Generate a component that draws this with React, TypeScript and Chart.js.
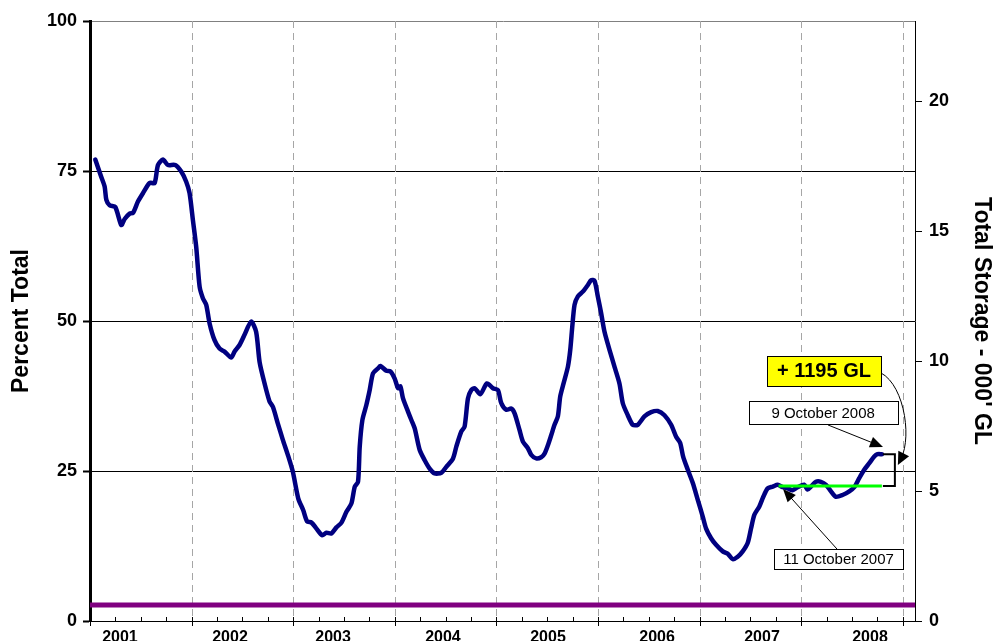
import React, { useEffect, useRef } from 'react';
import { Chart, registerables } from 'chart.js';

Chart.register(...registerables);

// ---- data ----
const storageYears = [
  2001.052, 2001.111, 2001.144, 2001.161, 2001.193, 2001.249, 2001.308, 2001.341, 2001.39, 2001.423,
  2001.472, 2001.521, 2001.587, 2001.636, 2001.669, 2001.718, 2001.767, 2001.839, 2001.898, 2001.947,
  2001.98, 2002.013, 2002.045, 2002.079, 2002.111, 2002.144, 2002.177, 2002.226, 2002.275, 2002.324,
  2002.39, 2002.423, 2002.472, 2002.521, 2002.586, 2002.635, 2002.669, 2002.718, 2002.767, 2002.8,
  2002.849, 2002.898, 2002.947, 2002.996, 2003.05, 2003.098, 2003.137, 2003.18, 2003.229, 2003.285,
  2003.327, 2003.376, 2003.425, 2003.475, 2003.524, 2003.573, 2003.606, 2003.638, 2003.655, 2003.681,
  2003.72, 2003.753, 2003.786, 2003.835, 2003.858, 2003.917, 2003.957, 2003.999, 2004.032, 2004.055,
  2004.081, 2004.13, 2004.163, 2004.196, 2004.245, 2004.294, 2004.343, 2004.392, 2004.458, 2004.507,
  2004.573, 2004.606, 2004.655, 2004.687, 2004.72, 2004.753, 2004.786, 2004.842, 2004.907, 2004.966,
  2005.015, 2005.048, 2005.097, 2005.146, 2005.179, 2005.228, 2005.261, 2005.31, 2005.343, 2005.392,
  2005.441, 2005.474, 2005.507, 2005.54, 2005.572, 2005.605, 2005.628, 2005.661, 2005.704, 2005.727,
  2005.747, 2005.769, 2005.802, 2005.851, 2005.9, 2005.933, 2005.966, 2005.998, 2006.031, 2006.064,
  2006.113, 2006.162, 2006.211, 2006.244, 2006.293, 2006.342, 2006.391, 2006.457, 2006.523, 2006.588,
  2006.654, 2006.72, 2006.769, 2006.808, 2006.838, 2006.884, 2006.933, 2006.982, 2007.031, 2007.064,
  2007.113, 2007.162, 2007.228, 2007.277, 2007.326, 2007.375, 2007.424, 2007.473, 2007.506, 2007.539,
  2007.588, 2007.627, 2007.67, 2007.72, 2007.769, 2007.818, 2007.866, 2007.915, 2007.965, 2008.03,
  2008.063, 2008.096, 2008.145, 2008.194, 2008.244, 2008.293, 2008.342, 2008.407, 2008.473, 2008.522,
  2008.571, 2008.62, 2008.67, 2008.719, 2008.751, 2008.794,
];
const storagePct = [
  76.9, 74.0, 72.4, 70.2, 69.3, 69.0, 66.0, 67.0, 67.9, 68.0,
  69.9, 71.3, 73.0, 73.0, 76.0, 76.9, 76.0, 76.0, 74.9, 73.2,
  71.3, 66.8, 62.4, 55.7, 53.8, 52.7, 49.6, 46.8, 45.4, 44.9,
  43.9, 44.9, 46.0, 47.7, 49.9, 48.2, 43.2, 39.6, 36.6, 35.7,
  32.9, 30.2, 27.7, 24.9, 20.4, 18.5, 16.6, 16.4, 15.4, 14.3,
  14.7, 14.6, 15.6, 16.4, 18.2, 19.6, 22.4, 23.2, 29.1, 33.5,
  36.0, 38.5, 41.3, 42.1, 42.5, 41.7, 41.6, 40.4, 38.8, 39.1,
  37.1, 34.9, 33.5, 32.1, 28.5, 26.8, 25.4, 24.6, 24.7, 25.7,
  27.1, 29.1, 31.6, 32.4, 37.1, 38.5, 38.8, 37.8, 39.6, 38.8,
  38.5, 36.3, 35.2, 35.4, 34.6, 31.8, 29.9, 28.8, 27.7, 27.1,
  27.3, 27.9, 29.3, 31.0, 32.7, 34.1, 37.4, 39.6, 42.4, 45.2,
  49.1, 52.7, 54.1, 54.9, 56.0, 56.8, 56.7, 54.1, 51.3, 48.2,
  45.2, 42.4, 39.6, 36.3, 34.3, 32.7, 32.7, 34.1, 34.8, 35.0,
  34.3, 32.7, 30.7, 29.7, 27.4, 25.2, 23.0, 20.2, 17.4, 15.4,
  13.8, 12.7, 11.6, 11.2, 10.3, 10.7, 11.6, 13.0, 15.4, 17.7,
  19.1, 20.7, 22.1, 22.4, 22.7, 22.3, 22.1, 21.8, 22.3, 22.7,
  21.9, 22.4, 23.2, 23.2, 22.7, 21.6, 20.7, 21.0, 21.6, 22.3,
  23.8, 25.2, 26.3, 27.4, 27.8, 27.8,
];
const deadStorageYears = [2001, 2009.12];
const deadStoragePct = [2.67, 2.67];
const lastYearYears = [2007.777, 2008.794];
const lastYearPct = [22.5, 22.5];

const yearLabels = ['2001', '2002', '2003', '2004', '2005', '2006', '2007', '2008'];
const yearLabelPos = [2001.295, 2002.378, 2003.392, 2004.474, 2005.508, 2006.581, 2007.614, 2008.677];
const leftTicks = [0, 25, 50, 75, 100];
const rightTicks = [0, 5, 10, 15, 20];

const gainText = '+ 1195 GL';
const endDateText = '9 October 2008';
const startDateText = '11 October 2007';

const X_MIN = 2001;
const X_MAX = 2009.12;
const RIGHT_MAX = 23.1;

const FONT = '"Liberation Sans", Arial, sans-serif';

function drawArrowHead(ctx: CanvasRenderingContext2D, tx: number, ty: number, ang: number, len = 13, half = 5.5) {
  ctx.beginPath();
  ctx.moveTo(tx, ty);
  ctx.lineTo(tx - len * Math.cos(ang) + half * Math.sin(ang), ty - len * Math.sin(ang) - half * Math.cos(ang));
  ctx.lineTo(tx - len * Math.cos(ang) - half * Math.sin(ang), ty - len * Math.sin(ang) + half * Math.cos(ang));
  ctx.closePath();
  ctx.fill();
}

function drawArrow(ctx: CanvasRenderingContext2D, x1: number, y1: number, x2: number, y2: number) {
  const ang = Math.atan2(y2 - y1, x2 - x1);
  ctx.beginPath();
  ctx.moveTo(x1, y1);
  ctx.lineTo(x2 - 10 * Math.cos(ang), y2 - 10 * Math.sin(ang));
  ctx.stroke();
  drawArrowHead(ctx, x2, y2, ang);
}

function drawBox(ctx: CanvasRenderingContext2D, cx: number, cy: number, w: number, h: number, text: string, font: string, fill: string) {
  const l = Math.round(cx - w / 2) + 0.5;
  const t = Math.round(cy - h / 2) + 0.5;
  ctx.fillStyle = fill;
  ctx.fillRect(l, t, w, h);
  ctx.strokeStyle = '#000';
  ctx.lineWidth = 1;
  ctx.strokeRect(l, t, w, h);
  ctx.fillStyle = '#000';
  ctx.font = font;
  ctx.textAlign = 'center';
  ctx.textBaseline = 'middle';
  ctx.fillText(text, cx, cy + 1);
}

const overlayPlugin = {
  id: 'overlay',
  beforeDatasetsDraw(chart: any) {
    const { ctx, chartArea: a, scales } = chart;
    const x = scales.x;
    ctx.save();
    ctx.strokeStyle = '#a6a6a6';
    ctx.lineWidth = 1;
    ctx.setLineDash([7, 5]);
    for (let yr = X_MIN + 1; yr <= X_MAX; yr++) {
      const px = Math.round(x.getPixelForValue(yr)) + 0.5;
      ctx.beginPath();
      ctx.moveTo(px, a.top);
      ctx.lineTo(px, a.bottom);
      ctx.stroke();
    }
    ctx.restore();
  },
  afterDraw(chart: any) {
    const { ctx, chartArea: a, scales } = chart;
    const x = scales.x;
    const y = scales.y;
    ctx.save();
    // quarter tick marks on the x axis
    ctx.strokeStyle = '#000';
    ctx.lineWidth = 1;
    for (let i = 0; X_MIN + i * 0.25 <= X_MAX; i++) {
      const v = X_MIN + i * 0.25;
      const px = Math.round(x.getPixelForValue(v)) + 0.5;
      const major = i % 4 === 0;
      ctx.beginPath();
      ctx.moveTo(px, a.bottom - 4);
      ctx.lineTo(px, a.bottom + (major ? 5 : 0));
      ctx.stroke();
    }

    // bracket showing the gain
    const lastX = x.getPixelForValue(storageYears[storageYears.length - 1]);
    const topY = y.getPixelForValue(storagePct[storagePct.length - 1]);
    const botY = y.getPixelForValue(lastYearPct[lastYearPct.length - 1]);
    const bl = lastX + 1;
    const br = lastX + 13;
    ctx.lineWidth = 2;
    ctx.beginPath();
    ctx.moveTo(bl, topY);
    ctx.lineTo(br, topY);
    ctx.lineTo(br, botY);
    ctx.lineTo(bl, botY);
    ctx.stroke();

    // curved arrow from gain label to bracket
    ctx.lineWidth = 1;
    const sx = x.getPixelForValue(2008.736), sy = y.getPixelForValue(41.67);
    const c1x = x.getPixelForValue(2009.0), c1y = y.getPixelForValue(40.5);
    const c2x = x.getPixelForValue(2009.1), c2y = y.getPixelForValue(31.0);
    const ex = br + 3, ey = (topY + botY) / 2 - 5;
    ctx.beginPath();
    ctx.moveTo(sx, sy);
    ctx.bezierCurveTo(c1x, c1y, c2x, c2y, ex + 3, ey - 6);
    ctx.stroke();
    ctx.fillStyle = '#000';
    drawArrowHead(ctx, ex, ey, Math.atan2(ey - c2y, ex - c2x), 13, 6);

    // straight arrows
    drawArrow(ctx, x.getPixelForValue(2008.264), y.getPixelForValue(32.67), x.getPixelForValue(2008.805), y.getPixelForValue(29.0));
    drawArrow(ctx, x.getPixelForValue(2008.352), y.getPixelForValue(12.0), x.getPixelForValue(2007.821), y.getPixelForValue(22.0));

    // boxes
    drawBox(ctx, x.getPixelForValue(2008.224), y.getPixelForValue(41.67), 114, 30, gainText, `bold 20px ${FONT}`, '#ffff00');
    drawBox(ctx, x.getPixelForValue(2008.2156), y.getPixelForValue(34.75), 149, 23, endDateText, `15px ${FONT}`, '#ffffff');
    drawBox(ctx, x.getPixelForValue(2008.367), y.getPixelForValue(10.33), 129, 20, startDateText, `15px ${FONT}`, '#ffffff');
    ctx.restore();
  },
};

export default function App() {
  const canvasRef = useRef<HTMLCanvasElement | null>(null);

  useEffect(() => {
    document.body.style.margin = '0';
    const canvas = canvasRef.current;
    if (!canvas) return;
    const toXY = (xs: number[], ys: number[]) => xs.map((v, i) => ({ x: v, y: ys[i] }));
    const xTickFont = { family: FONT, size: 16, weight: 'bold' as const };
    const yTickFont = { family: FONT, size: 18, weight: 'bold' as const };
    const titleFont = { family: FONT, size: 23, weight: 'bold' as const };
    const chart = new Chart(canvas, {
      type: 'line',
      data: {
        datasets: [
          {
            label: 'Dead storage',
            data: toXY(deadStorageYears, deadStoragePct),
            borderColor: '#800080',
            borderWidth: 5,
            pointRadius: 0,
            yAxisID: 'y',
          },
          {
            label: 'October 2007 level',
            data: toXY(lastYearYears, lastYearPct),
            borderColor: '#00ff00',
            borderWidth: 3,
            pointRadius: 0,
            yAxisID: 'y',
          },
          {
            label: 'Percent Total',
            data: toXY(storageYears, storagePct),
            borderColor: '#000080',
            borderWidth: 4.5,
            pointRadius: 0,
            tension: 0.25,
            borderJoinStyle: 'round',
            borderCapStyle: 'round',
            yAxisID: 'y',
          },
        ],
      },
      options: {
        animation: false,
        responsive: true,
        maintainAspectRatio: false,
        layout: { padding: { top: 21, left: 0, right: 0, bottom: 0 } },
        plugins: { legend: { display: false }, tooltip: { enabled: false }, title: { display: false } },
        scales: {
          x: {
            type: 'linear',
            position: 'bottom',
            min: X_MIN,
            max: X_MAX,
            afterBuildTicks: (scale: any) => {
              scale.ticks = yearLabelPos.map((v) => ({ value: v }));
            },
            afterFit: (scale: any) => {
              scale.height = 20;
            },
            grid: { display: false, drawTicks: false },
            border: { display: true, color: '#000', width: 1 },
            ticks: {
              autoSkip: false,
              maxRotation: 0,
              padding: 7,
              color: '#000',
              font: xTickFont,
              callback: (value: any) => {
                const idx = yearLabelPos.findIndex((p) => Math.abs(p - Number(value)) < 1e-6);
                return idx >= 0 ? yearLabels[idx] : '';
              },
            },
          },
          y: {
            type: 'linear',
            position: 'left',
            min: 0,
            max: 100,
            afterBuildTicks: (scale: any) => {
              scale.ticks = leftTicks.map((v) => ({ value: v }));
            },
            afterFit: (scale: any) => {
              scale.width = 90;
            },
            grid: {
              color: (ctx: any) => {
                const v = ctx.tick ? ctx.tick.value : -1;
                if (v === 0) return 'rgba(0,0,0,0)';
                if (v === 100) return '#808080';
                return '#000000';
              },
              lineWidth: 1,
              drawTicks: true,
              tickLength: 7,
              tickColor: '#000',
              tickWidth: 2,
            },
            border: { display: true, color: '#000', width: 3 },
            ticks: { color: '#000', font: yTickFont, padding: 6 },
            title: {
              display: true,
              text: 'Percent Total',
              color: '#000',
              font: titleFont,
              padding: { top: 8, bottom: 0 },
            },
          },
          y2: {
            type: 'linear',
            position: 'right',
            min: 0,
            max: RIGHT_MAX,
            afterBuildTicks: (scale: any) => {
              scale.ticks = rightTicks.map((v) => ({ value: v }));
            },
            afterFit: (scale: any) => {
              scale.width = 78;
            },
            grid: { drawOnChartArea: false, drawTicks: true, tickLength: 7, tickColor: '#000', tickWidth: 1 },
            border: { display: true, color: '#000', width: 1 },
            ticks: { color: '#000', font: yTickFont, padding: 7 },
            title: {
              display: true,
              text: "Total Storage - 000' GL",
              color: '#000',
              font: titleFont,
              padding: { top: -2, bottom: 0 },
            },
          },
        },
      },
      plugins: [overlayPlugin],
    } as any);
    return () => chart.destroy();
  }, []);

  return (
    <div style={{ position: 'absolute', left: 0, top: 0, width: 993, height: 641 }}>
      <canvas ref={canvasRef} />
    </div>
  );
}
